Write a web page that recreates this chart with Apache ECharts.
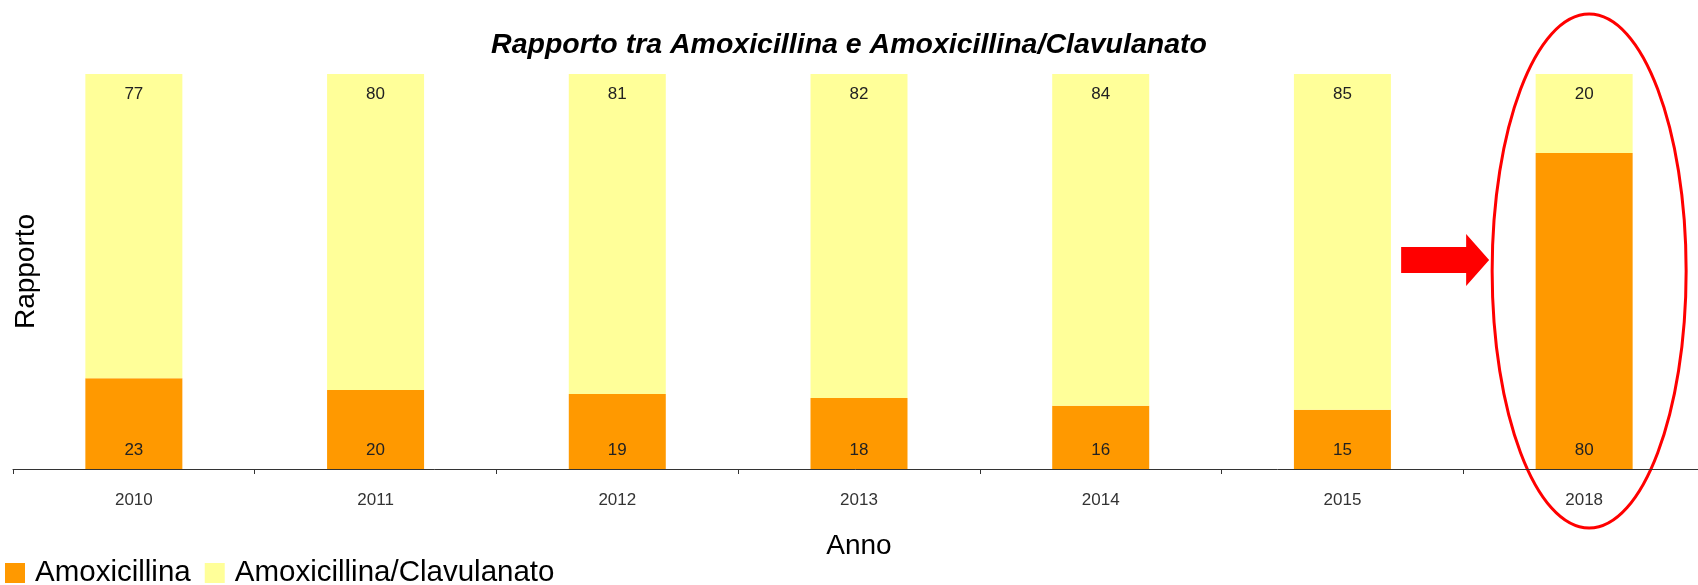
<!DOCTYPE html>
<html>
<head>
<meta charset="utf-8">
<script src="https://cdn.jsdelivr.net/npm/echarts@6/dist/echarts.min.js"></script>
<style>
  html, body { margin: 0; padding: 0; background: #fff; }
  #main { width: 1698px; height: 585px; }
</style>
</head>
<body>
<div id="main"></div>
<script>
var years = ['2010', '2011', '2012', '2013', '2014', '2015', '2018'];
var amox = [23, 20, 19, 18, 16, 15, 80];
var amoxClav = [77, 80, 81, 82, 84, 85, 20];

var font = 'Liberation Sans';
var myChart = echarts.init(document.getElementById('main'));

myChart.setOption({
    animation: false,
    textStyle: { fontFamily: font },
    title: {
        text: 'Rapporto tra Amoxicillina e Amoxicillina/Clavulanato',
        left: 'center',
        top: 31,
        padding: 0,
        textStyle: {
            fontFamily: font,
            fontSize: 28.5,
            fontWeight: 'bold',
            fontStyle: 'italic',
            color: '#000'
        }
    },
    legend: {
        left: 5,
        top: 558,
        padding: 0,
        itemWidth: 20,
        itemHeight: 20,
        itemGap: 14,
        icon: 'rect',
        textStyle: {
            fontFamily: font,
            fontSize: 29.5,
            color: '#000',
            padding: [0, 0, 0, 5]
        },
        data: ['Amoxicillina', 'Amoxicillina/Clavulanato']
    },
    grid: {
        left: 13,
        top: 74,
        width: 1692,
        height: 395,
        outerBoundsMode: 'none',
        containLabel: false
    },
    xAxis: {
        type: 'category',
        data: years,
        boundaryGap: true,
        name: 'Anno',
        nameLocation: 'middle',
        nameGap: 63,
        nameTextStyle: { fontSize: 28, color: '#000', fontFamily: font },
        axisLine: { lineStyle: { color: '#333', width: 1 } },
        axisTick: { show: true, interval: 0, length: 5, lineStyle: { color: '#333' } },
        axisLabel: { fontSize: 17, color: '#333', margin: 23, interval: 0 }
    },
    yAxis: {
        type: 'value',
        min: 0,
        max: 100,
        name: 'Rapporto',
        nameLocation: 'middle',
        nameGap: -27,
        nameTextStyle: { fontSize: 28, color: '#000', fontFamily: font },
        axisLine: { show: false },
        axisTick: { show: false },
        axisLabel: { show: false },
        splitLine: { show: false }
    },
    series: [
        {
            name: 'Amoxicillina',
            type: 'bar',
            stack: 'tot',
            barWidth: 97,
            itemStyle: { color: '#FF9900' },
            label: {
                show: true,
                position: 'insideBottom',
                distance: 10,
                fontSize: 17,
                color: '#222'
            },
            data: amox
        },
        {
            name: 'Amoxicillina/Clavulanato',
            type: 'bar',
            stack: 'tot',
            barWidth: 97,
            itemStyle: { color: '#FFFF99' },
            label: {
                show: true,
                position: 'insideTop',
                distance: 12,
                fontSize: 17,
                color: '#222'
            },
            data: amoxClav
        }
    ]
});

// annotazioni: freccia ed ellisse attorno al 2018
var cx = myChart.convertToPixel({ xAxisIndex: 0 }, '2018');
myChart.setOption({
    graphic: [
        {
            type: 'ellipse',
            shape: { cx: cx + 5, cy: 271, rx: 97, ry: 257 },
            style: { fill: 'none', stroke: '#FF0000', lineWidth: 3 }
        },
        {
            type: 'polygon',
            shape: {
                points: [
                    [cx - 183, 247], [cx - 118, 247], [cx - 118, 234],
                    [cx - 95, 260], [cx - 118, 286], [cx - 118, 273],
                    [cx - 183, 273]
                ]
            },
            style: { fill: '#FF0000' }
        }
    ]
});
</script>
</body>
</html>
